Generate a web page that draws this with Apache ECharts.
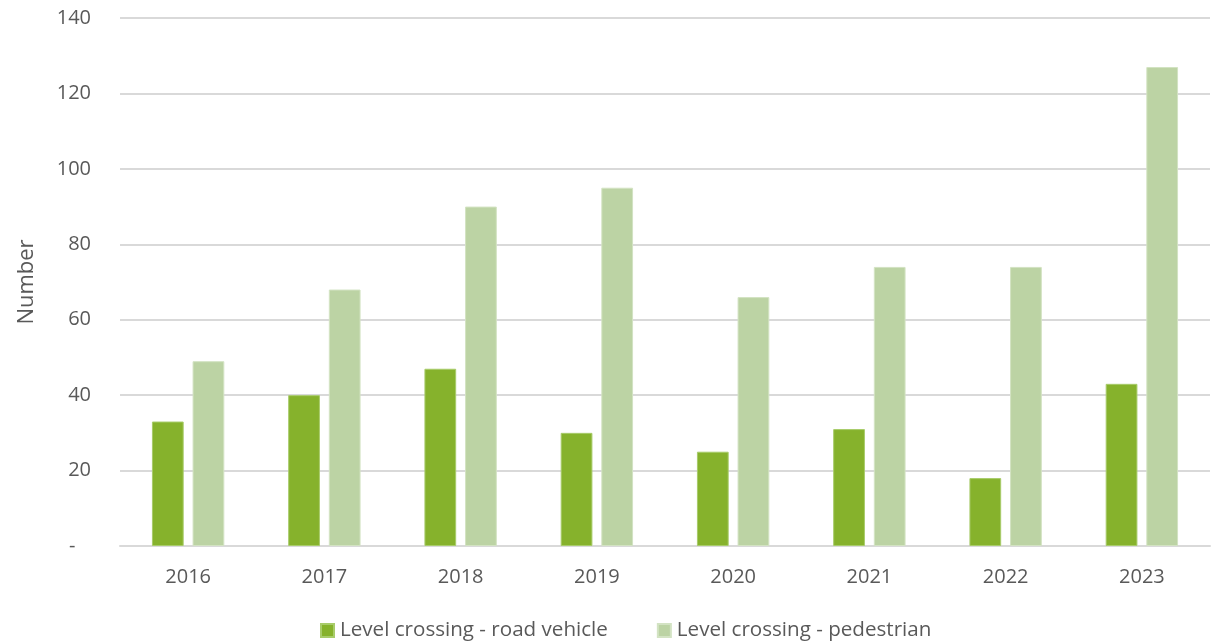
<!DOCTYPE html>
<html>
<head>
<meta charset="utf-8">
<script src="https://cdn.jsdelivr.net/npm/echarts@6/dist/echarts.min.js"></script>
<style>
  html, body { margin: 0; padding: 0; background: #ffffff; }
  #chart { width: 1223px; height: 641px; }
</style>
</head>
<body>
<div id="chart"></div>
<script>
// Level crossing incidents per year
const years = ['2016', '2017', '2018', '2019', '2020', '2021', '2022', '2023'];
const roadVehicle = [33, 40, 47, 30, 25, 31, 18, 43];
const pedestrian = [49, 68, 90, 95, 66, 74, 74, 127];
const seriesNames = ['Level crossing - road vehicle', 'Level crossing - pedestrian'];

const FONT = '"Open Sans", "Noto Sans", sans-serif';
const TEXT = '#595959';

const chart = echarts.init(document.getElementById('chart'), null, { renderer: 'canvas' });

chart.setOption({
  animation: false,
  textStyle: { fontFamily: FONT, color: TEXT },
  grid: { left: 120, right: 13, top: 18, bottom: 95, containLabel: false },
  legend: {
    top: 615,
    left: 315,
    itemWidth: 13,
    itemHeight: 13,
    itemGap: 49,
    icon: 'rect',
    textStyle: { fontFamily: FONT, fontSize: 20.6, color: TEXT, padding: [0, 0, 0, 1] },
    data: seriesNames
  },
  xAxis: {
    type: 'category',
    data: years,
    axisTick: { show: false },
    axisLine: { show: true, lineStyle: { color: '#d9d9d9', width: 2 } },
    axisLabel: { fontFamily: FONT, fontSize: 20, color: TEXT, margin: 21 }
  },
  yAxis: {
    type: 'value',
    name: 'Number',
    nameLocation: 'middle',
    nameRotate: 90,
    nameGap: 82,
    nameTextStyle: { fontFamily: FONT, fontSize: 22, color: TEXT },
    min: 0,
    max: 140,
    interval: 20,
    axisLine: { show: false },
    axisTick: { show: false },
    splitLine: { lineStyle: { color: '#d9d9d9', width: 2 } },
    axisLabel: {
      fontFamily: FONT, fontSize: 20, color: TEXT, margin: 29,
      formatter: v => (v === 0 ? '-   ' : String(v))
    }
  },
  series: [
    {
      name: seriesNames[0],
      type: 'bar',
      data: roadVehicle,
      barWidth: '23.3%',
      barGap: '28%',
      itemStyle: { color: '#86b22c', borderColor: '#a8cc6a', borderWidth: 1 }
    },
    {
      name: seriesNames[1],
      type: 'bar',
      data: pedestrian,
      barWidth: '23.3%',
      barGap: '28%',
      itemStyle: { color: '#bcd3a4', borderColor: '#d3e3c3', borderWidth: 1 }
    }
  ]
});
</script>
</body>
</html>
